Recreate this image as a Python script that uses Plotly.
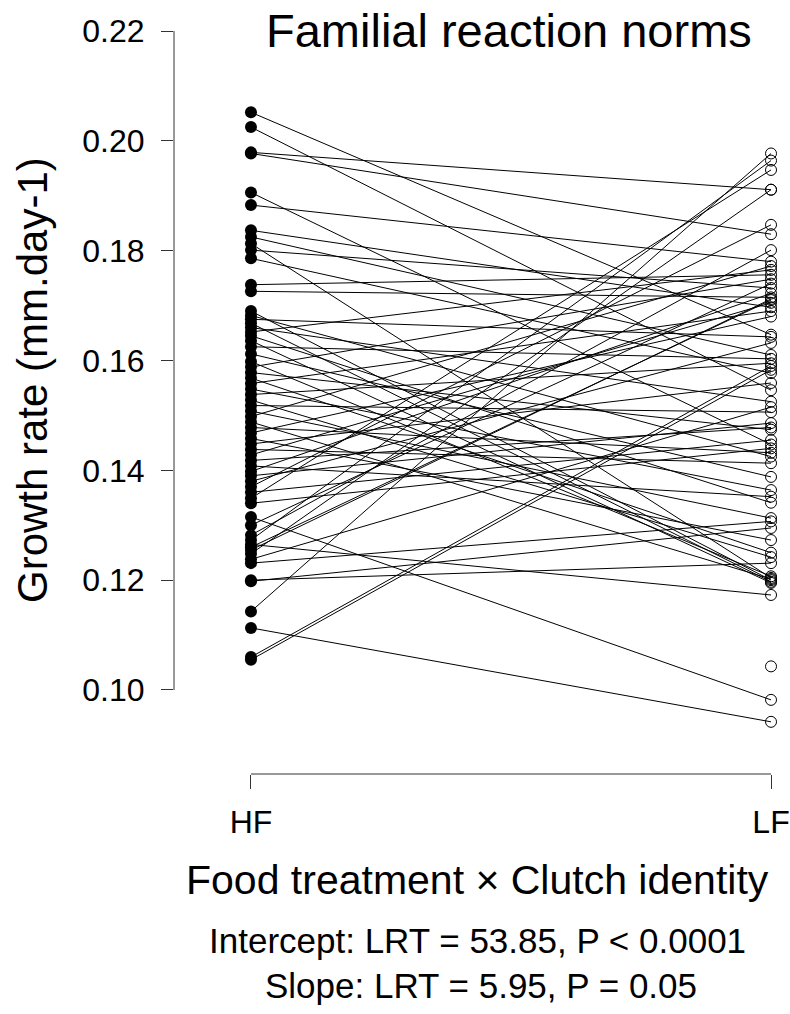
import plotly.graph_objects as go

# Family means: growth rate under high food (HF) and low food (LF)
hf_values = [0.2052, 0.2025, 0.1979, 0.1977, 0.1906, 0.1883, 0.1837, 0.1825, 0.1813, 0.1801,
             0.1786, 0.1738, 0.1726, 0.1690, 0.1682, 0.1675, 0.1668, 0.1660, 0.1652, 0.1645,
             0.1636, 0.1625, 0.1612, 0.1598, 0.1588, 0.1578, 0.1568, 0.1558, 0.1548, 0.1538,
             0.1528, 0.1518, 0.1508, 0.1498, 0.1488, 0.1478, 0.1468, 0.1458, 0.1448, 0.1438,
             0.1428, 0.1418, 0.1408, 0.1398, 0.1390, 0.1380, 0.1370, 0.1360, 0.1349, 0.1340,
             0.1315, 0.1300, 0.1282, 0.1273, 0.1265, 0.1260, 0.1255, 0.1248, 0.1238, 0.1231,
             0.1200, 0.1198, 0.1143, 0.1113, 0.1060, 0.1055]
lf_values = [0.1647, 0.1546, 0.1911, 0.1830, 0.1447, 0.1780, 0.1697, 0.1610, 0.1204, 0.1732,
             0.1577, 0.1756, 0.1715, 0.1200, 0.1425, 0.1643, 0.1197, 0.1525, 0.1765, 0.1341,
             0.1195, 0.1603, 0.1388, 0.1207, 0.1748, 0.1474, 0.1250, 0.1690, 0.1364, 0.1595,
             0.1242, 0.1506, 0.1313, 0.1772, 0.1202, 0.1432, 0.1680, 0.1273, 0.1559, 0.1413,
             0.1705, 0.1478, 0.1352, 0.1722, 0.1486, 0.1632, 0.1847, 0.1455, 0.1947, 0.1440,
             0.0982, 0.1740, 0.1801, 0.1964, 0.1173, 0.1710, 0.1712, 0.1911, 0.1515, 0.1307,
             0.1231, 0.1295, 0.1977, 0.0942, 0.1590, 0.1583]
lf_unpaired = [0.1043]

treatments = ["HF", "LF"]
tick_values = [0.10, 0.12, 0.14, 0.16, 0.18, 0.20, 0.22]
tick_labels = ["0.10", "0.12", "0.14", "0.16", "0.18", "0.20", "0.22"]

FONT = "Liberation Sans, Arial, Helvetica, sans-serif"

line_x, line_y = [], []
for a, b in zip(hf_values, lf_values):
    line_x += [1, 2, None]
    line_y += [a, b, None]

fig = go.Figure()
fig.add_trace(go.Scatter(x=line_x, y=line_y, mode="lines",
                         line=dict(color="black", width=1), hoverinfo="skip"))
fig.add_trace(go.Scatter(x=[1] * len(hf_values), y=hf_values, mode="markers",
                         marker=dict(color="black", size=12, line=dict(width=0))))
fig.add_trace(go.Scatter(x=[2] * (len(lf_values) + len(lf_unpaired)),
                         y=lf_values + lf_unpaired, mode="markers",
                         marker=dict(color="black", size=11, symbol="circle-open",
                                     line=dict(color="black", width=1))))

fig.update_layout(
    width=790, height=1014,
    margin=dict(l=174, r=0, t=3, b=240),
    paper_bgcolor="white", plot_bgcolor="white",
    showlegend=False,
    font=dict(family=FONT, color="black"),
    xaxis=dict(range=[0.852, 2.0365], tickvals=[1, 2], ticktext=treatments,
               ticks="outside", ticklen=14, tickwidth=1, tickcolor="#333",
               showgrid=False, zeroline=False, showline=False,
               tickfont=dict(size=32, family=FONT), ticklabelstandoff=6),
    yaxis=dict(range=[0.0847, 0.2251], tickvals=tick_values, ticktext=tick_labels,
               ticks="outside", ticklen=12, tickwidth=1, tickcolor="#333",
               showgrid=False, zeroline=False, showline=False,
               tickfont=dict(size=32, family=FONT), ticklabelstandoff=10),
)

# R-style axis lines spanning only the tick range
fig.add_shape(type="line", xref="paper", yref="y", x0=0, x1=0, y0=0.10, y1=0.22,
              line=dict(color="#333", width=1))
fig.add_shape(type="line", xref="x", yref="paper", x0=1, x1=2, y0=0, y1=0,
              line=dict(color="#333", width=1))

fig.add_annotation(text="Familial reaction norms", xref="paper", yref="paper",
                   x=0.544, y=0.9637, xanchor="center", yanchor="middle", showarrow=False,
                   font=dict(size=47, family=FONT))
fig.add_annotation(text="Growth rate (mm.day-1)", xref="paper", yref="paper",
                   x=0, y=0.511, xanchor="center", yanchor="middle", xshift=-142,
                   textangle=-90, showarrow=False, font=dict(size=42, family=FONT))
fig.add_annotation(text="Food treatment \u00d7 Clutch identity", xref="paper", yref="paper",
                   x=0.4935, y=0, xanchor="center", yanchor="middle", yshift=-106,
                   showarrow=False, font=dict(size=41, family=FONT))
fig.add_annotation(text="Intercept: LRT = 53.85, P < 0.0001", xref="paper", yref="paper",
                   x=0.4935, y=0, xanchor="center", yanchor="middle", yshift=-166,
                   showarrow=False, font=dict(size=35, family=FONT))
fig.add_annotation(text="Slope: LRT = 5.95, P = 0.05", xref="paper", yref="paper",
                   x=0.498, y=0, xanchor="center", yanchor="middle", yshift=-211,
                   showarrow=False, font=dict(size=35, family=FONT))

fig.write_html("out.html", config={"displayModeBar": False},
               post_script="document.body.style.margin='0';document.body.style.overflow='hidden';")
